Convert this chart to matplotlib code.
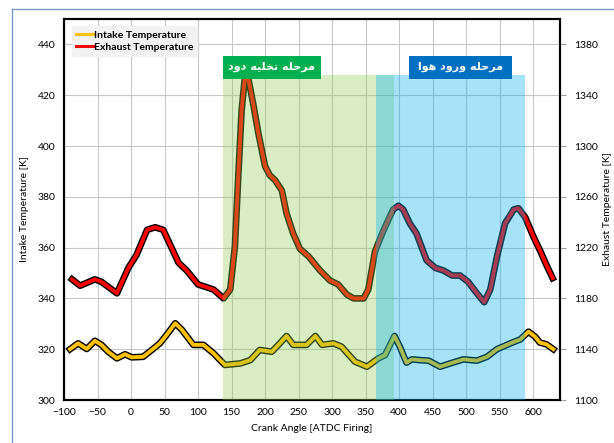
import matplotlib
matplotlib.use("Agg")
import matplotlib.pyplot as plt
import matplotlib.patheffects as pe
from matplotlib.lines import Line2D
from matplotlib.patches import Rectangle

plt.rcParams['font.family'] = ['Lato', 'DejaVu Sans']

# crank angle [deg ATDC firing] / temperature [K]
intake_angle = [-91, -79, -66, -54, -44, -34, -21, -9, 1, 18, 31, 43, 53, 66, 76, 93,
                108, 123, 140, 163, 178, 192, 210, 222, 232, 242, 262, 275, 285, 302,
                314, 334, 352, 369, 379, 393, 401, 411, 419, 431, 444, 461, 476, 496,
                516, 531, 546, 566, 581, 593, 603, 610, 620, 630]
intake_temp = [320, 322.3, 320.1, 323.3, 321.7, 319, 316.4, 318, 316.8, 317, 319.7, 322.3,
               325.6, 330.2, 327.6, 321.7, 321.7, 318.4, 313.8, 314.4, 315.7, 319.7, 319,
               322.3, 325.2, 321.7, 321.7, 325.2, 321.7, 322.3, 321, 315.1, 313.1, 316.4,
               317.7, 325.2, 321, 314.7, 316, 315.7, 315.5, 313.1, 314.4, 316, 315.5, 317,
               320, 322.3, 323.9, 326.9, 324.9, 322.6, 321.9, 320]

exhaust_angle = [-88, -76, -54, -44, -21, -4, 8, 24, 36, 48, 71, 83, 100, 123, 138, 148,
                 155, 160, 165, 170, 175, 182, 190, 200, 207, 215, 225, 232, 242, 252,
                 265, 282, 297, 309, 322, 332, 347, 354, 364, 377, 391, 399, 406, 416,
                 426, 441, 454, 466, 479, 491, 503, 516, 527, 536, 546, 558, 571, 578,
                 588, 600, 610, 620, 629]
exhaust_temp = [1195, 1190, 1195, 1193, 1184, 1204, 1214, 1234, 1236, 1234, 1208, 1202,
                1191, 1187, 1180, 1187, 1221, 1276, 1328, 1355, 1353, 1334, 1310, 1284,
                1277, 1273, 1265, 1247, 1231, 1219, 1213, 1202, 1194, 1191, 1183, 1180,
                1180, 1187, 1217, 1234, 1250, 1253, 1250, 1239, 1231, 1210, 1204, 1202,
                1198, 1198, 1193, 1184, 1177, 1187, 1213, 1239, 1250, 1251, 1244, 1229,
                1218, 1206, 1196]

# valve event windows (crank angle)
exhaust_phase = (137, 392)
intake_phase = (366, 588)
exhaust_label = "ﺩﻭﺩ ﻪﻴﻠﺨﺗ ﻪﻠﺣﺮﻣ"   # مرحله تخلیه دود (visual order, shaped)
intake_label = "ﺍﻮﻫ ﺩﻭﺭﻭ ﻪﻠﺣﺮﻣ"     # مرحله ورود هوا

fig = plt.figure(figsize=(6.14, 4.43), dpi=100)
ax = fig.add_axes([64/614, 1 - 400/443, (560-64)/614, (400-19)/443])
ax2 = ax.twinx()   # drawn above ax: exhaust, shading, boxes, legend

ax.set_xlim(-100, 640)
ax.set_ylim(300, 450)
ax2.set_ylim(1100, 1400)
ax.set_xticks(range(-100, 601, 50))
ax.set_yticks(range(300, 441, 20))
ax2.set_yticks(range(1100, 1381, 40))

ax.grid(True, color='#c8c8c8', lw=0.8)
ax.set_axisbelow(True)
for a in (ax, ax2):
    for s in a.spines.values():
        s.set_linewidth(1.5)
        s.set_color('black')
ax.tick_params(axis='both', length=0, labelsize=7.5, pad=6)
ax2.tick_params(axis='y', length=4, color='#a0a0a0', labelsize=7.5, pad=6)

outline = [pe.Stroke(linewidth=4.8, foreground='black'), pe.Normal()]
ax.plot(intake_angle, intake_temp, color='#ffc000', lw=2.8, solid_joinstyle='round',
        path_effects=outline, zorder=3)
ax2.plot(exhaust_angle, exhaust_temp, color='#ff0000', lw=2.8, solid_joinstyle='round',
         path_effects=outline, zorder=3)

# translucent phase windows drawn over both curves
top = (428 - 300) / 150
ax2.axvspan(*exhaust_phase, ymin=0, ymax=top, color='#92d050', alpha=0.35, lw=0, zorder=5)
ax2.axvspan(*intake_phase, ymin=0, ymax=top, color='#00b0f0', alpha=0.35, lw=0, zorder=5)

ax2.add_patch(Rectangle((137.5, 1352.8), 145.5, 18.4, color='#00b050', lw=0, zorder=6))
ax2.add_patch(Rectangle((415, 1352.8), 153.5, 18.4, color='#0070c0', lw=0, zorder=6))
ax2.text(210, 1362, exhaust_label, color='white', fontsize=8, fontweight='bold',
         family='DejaVu Sans', ha='center', va='center', zorder=7)
ax2.text(491.5, 1362, intake_label, color='white', fontsize=8, fontweight='bold',
         family='DejaVu Sans', ha='center', va='center', zorder=7)

ax.set_xlabel("Crank Angle [ATDC Firing]", fontsize=7.5, labelpad=5)
ax.set_ylabel("Intake Temperature [K]", fontsize=7.5, labelpad=6)
ax2.set_ylabel("Exhaust Temperature [K]", fontsize=7.5, labelpad=4)

handles = [Line2D([], [], color='#ffc000', lw=2.2), Line2D([], [], color='#ff0000', lw=2.2)]
leg = ax2.legend(handles, ["Intake Temperature", "Exhaust Temperature"], loc='upper left',
                 bbox_to_anchor=(0.005, 0.995), frameon=True, fancybox=False,
                 facecolor='#f2f2f2', edgecolor='#f2f2f2', framealpha=1,
                 prop={'size': 7.5, 'weight': 'bold'}, handlelength=1.6,
                 handletextpad=0.1, labelspacing=0.3, borderpad=0.4)
leg.set_zorder(8)

fig.add_artist(Line2D([12/614, 12/614], [0, 1 - 9/443], color='#7a9acb', lw=1))
fig.add_artist(Line2D([12/614, 1], [1 - 9/443, 1 - 9/443], color='#7a9acb', lw=1))

fig.savefig("out.png", dpi=100)
